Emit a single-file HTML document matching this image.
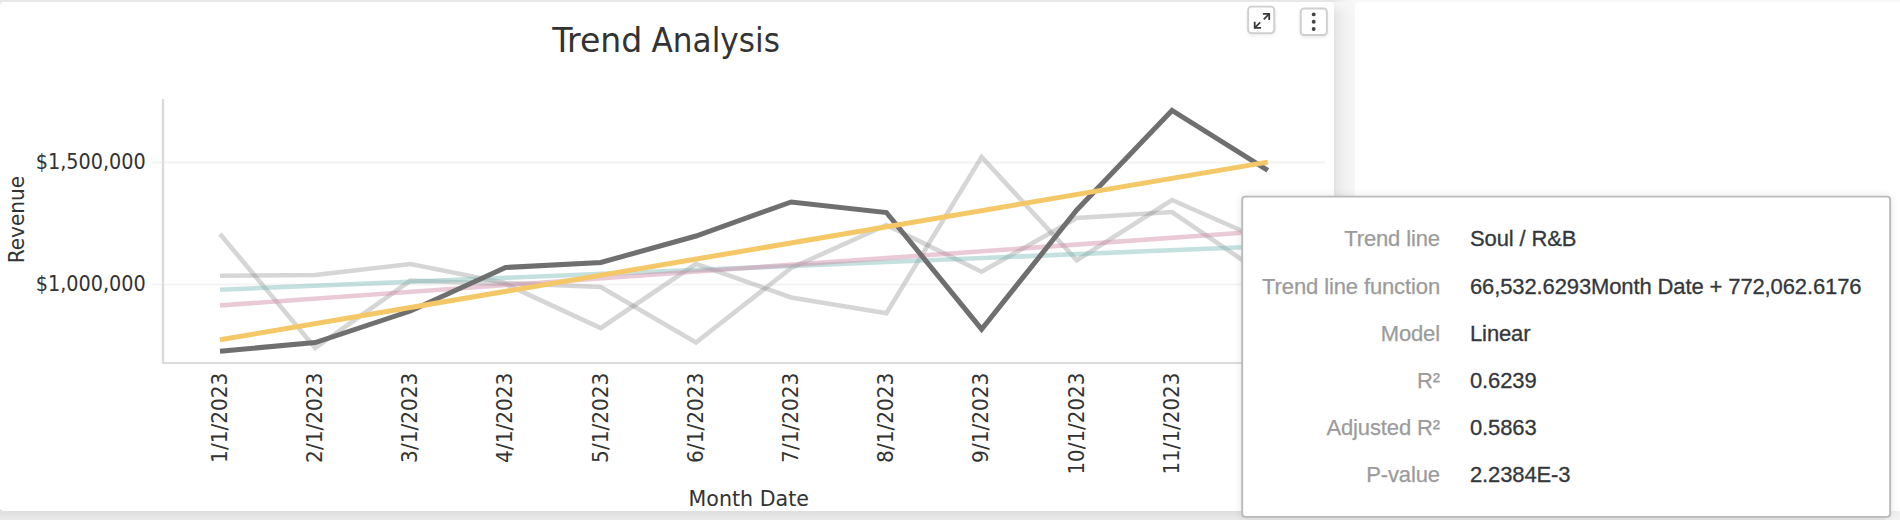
<!DOCTYPE html>
<html lang="en">
<head>
<meta charset="utf-8">
<title>Trend Analysis</title>
<style>
  html, body { margin: 0; padding: 0; }
  body {
    width: 1900px; height: 520px; overflow: hidden; position: relative;
    background: #f8f8f8;
    font-family: "Liberation Sans", sans-serif;
  }
  .topstrip {
    position: absolute; left: 0; top: 0; width: 1360px; height: 4px;
    background: linear-gradient(to right, #e8e8e8 0, #e8e8e8 1333px, #f8f8f8 1350px);
  }
  .botstrip {
    position: absolute; left: 0; top: 509px; width: 1900px; height: 11px;
    background: linear-gradient(to bottom, #dcdcdc 0, #dedede 2px, #eaeaea 11px);
  }
  .botstrip2 {
    position: absolute; left: 1885px; top: 509px; width: 15px; height: 11px;
    background: linear-gradient(to bottom, #eeeeee 0, #f3f3f3 11px);
  }
  .gap {
    position: absolute; left: 1330px; top: 2px; width: 27px; height: 510px;
    background: linear-gradient(to right, #e2e2e2 0, #e2e2e2 4px, #e8e8e8 7px, #f1f1f1 15px, #f8f8f8 26px);
  }
  .gaptop {
    position: absolute; left: 1330px; top: 2px; width: 27px; height: 14px;
    background: linear-gradient(to bottom, rgba(248,248,248,0.9) 0, rgba(248,248,248,0) 14px);
  }
  .card1 {
    position: absolute; left: 0; top: 2px; width: 1334px; height: 509px;
    background: #fff; border-radius: 4px;
  }
  .card2 {
    position: absolute; left: 1355px; top: 2px; width: 600px; height: 509px;
    background: #fff; border-radius: 4px;
  }
  svg.chart { position: absolute; left: 0; top: 0; }
  svg.chart text { font-family: "DejaVu Sans Condensed", "DejaVu Sans", "Liberation Sans", sans-serif; font-stretch: condensed; fill: #333; }
  .tipshadow {
    position: absolute; left: 1242px; top: 197px; width: 648px; height: 320px;
    border-radius: 3px; background: #fff;
    box-shadow: 0 0 10px rgba(0,0,0,0.13);
  }
  svg.frames { position: absolute; left: 0; top: 0; }
  .tip {
    position: absolute; left: 1243px; top: 197px; width: 646px; height: 319px;
    font-size: 22px; letter-spacing: -0.12px; color: #34373c; -webkit-text-stroke: 0.3px #34373c;
  }
  .tip .row { position: absolute; left: 0; width: 646px; height: 47px; line-height: 47px; white-space: nowrap; }
  .tip .k { position: absolute; right: 449px; color: #9b9b9b; -webkit-text-stroke: 0.25px #9b9b9b; text-align: right; white-space: nowrap; }
  .tip .v { position: absolute; left: 227px; white-space: nowrap; }
</style>
</head>
<body>
<div class="topstrip"></div>
<div class="botstrip"></div>
<div class="botstrip2"></div>
<div class="gap"></div>
<div class="gaptop"></div>
<div class="card1"></div>
<div class="card2"></div>

<svg class="chart" width="1900" height="520" viewBox="0 0 1900 520">
  <!-- grid -->
  <line x1="152" y1="162.5" x2="1325" y2="162.5" stroke="#f3f3f3" stroke-width="1.8"/>
  <line x1="152" y1="284.5" x2="1325" y2="284.5" stroke="#f3f3f3" stroke-width="1.8"/>
  <!-- axes -->
  <line x1="163" y1="99" x2="163" y2="364.1" stroke="#dbdbdb" stroke-width="2.3"/>
  <line x1="161.9" y1="363" x2="1325" y2="363" stroke="#dbdbdb" stroke-width="2.2"/>

  <!-- faded series -->
  <g fill="none" stroke-width="5" stroke-linejoin="miter" stroke-linecap="butt">
    <polyline stroke="#7f7f7f" stroke-opacity="0.32" stroke-width="4.6" points="220,275.75 315.2,275 410.4,264 505.6,283 600.8,287 696,342.5 791.2,268 886.4,225 981.6,271.7 1076.8,218 1172,212 1267.2,277"/>
    <polyline stroke="#7f7f7f" stroke-opacity="0.32" stroke-width="4.6" points="220,234 315.2,348 410.4,280.5 505.6,284 600.8,328 696,263.75 791.2,297.5 886.4,313.2 981.6,157 1076.8,260.3 1172,200 1267.2,242"/>
    <line stroke="#7fbdb9" stroke-opacity="0.45" stroke-width="4.6" x1="220" y1="289.7" x2="1267.2" y2="246.2"/>
    <line stroke="#d08aa6" stroke-opacity="0.45" stroke-width="4.6" x1="220" y1="305.4" x2="1267.2" y2="231"/>
    <polyline stroke="#6f6f6f" points="220,351.25 315.2,342.5 410.4,311 505.6,267.5 600.8,262.5 696,236 791.2,202 886.4,212.5 981.6,329.2 1076.8,210 1172,110.5 1267.8,170.3"/>
    <line stroke="#f4c866" x1="220" y1="339.8" x2="1267.8" y2="162.1"/>
  </g>

  <!-- title -->
  <text y="51.75" font-size="34"><tspan x="552.3" textLength="90" lengthAdjust="spacingAndGlyphs">Trend</tspan> <tspan x="651.5" textLength="128.5" lengthAdjust="spacingAndGlyphs">Analysis</tspan></text>

  <!-- y labels -->
  <g font-size="20.5" text-anchor="end">
    <text x="145.8" y="168.75" textLength="110" lengthAdjust="spacingAndGlyphs">$1,500,000</text>
    <text x="145.8" y="290.75" textLength="110" lengthAdjust="spacingAndGlyphs">$1,000,000</text>
  </g>
  <text transform="translate(24.25,219.5) rotate(-90)" font-size="21.2" text-anchor="middle" textLength="87.5" lengthAdjust="spacingAndGlyphs">Revenue</text>

  <!-- x labels -->
  <g font-size="20.5" text-anchor="end">
    <text transform="translate(227.1,372.6) rotate(-90)" textLength="90.3" lengthAdjust="spacingAndGlyphs">1/1/2023</text>
    <text transform="translate(322.2,372.6) rotate(-90)" textLength="90.3" lengthAdjust="spacingAndGlyphs">2/1/2023</text>
    <text transform="translate(417.3,372.6) rotate(-90)" textLength="90.3" lengthAdjust="spacingAndGlyphs">3/1/2023</text>
    <text transform="translate(512.4,372.6) rotate(-90)" textLength="90.3" lengthAdjust="spacingAndGlyphs">4/1/2023</text>
    <text transform="translate(607.5,372.6) rotate(-90)" textLength="90.3" lengthAdjust="spacingAndGlyphs">5/1/2023</text>
    <text transform="translate(702.6,372.6) rotate(-90)" textLength="90.3" lengthAdjust="spacingAndGlyphs">6/1/2023</text>
    <text transform="translate(797.7,372.6) rotate(-90)" textLength="90.3" lengthAdjust="spacingAndGlyphs">7/1/2023</text>
    <text transform="translate(892.8,372.6) rotate(-90)" textLength="90.3" lengthAdjust="spacingAndGlyphs">8/1/2023</text>
    <text transform="translate(987.9,372.6) rotate(-90)" textLength="90.3" lengthAdjust="spacingAndGlyphs">9/1/2023</text>
    <text transform="translate(1083.5,372.6) rotate(-90)" textLength="102" lengthAdjust="spacingAndGlyphs">10/1/2023</text>
    <text transform="translate(1179.1,372.6) rotate(-90)" textLength="102" lengthAdjust="spacingAndGlyphs">11/1/2023</text>
  </g>
  <text x="748.75" y="506.25" font-size="20.6" text-anchor="middle" textLength="120.3" lengthAdjust="spacingAndGlyphs">Month Date</text>
</svg>

<!-- buttons -->
<div class="tipshadow"></div>
<svg class="frames" width="1900" height="520" viewBox="0 0 1900 520">
  <defs>
    <filter id="bs" x="-30%" y="-30%" width="160%" height="180%">
      <feGaussianBlur stdDeviation="2"/>
    </filter>
  </defs>
  <!-- expand button -->
  <rect x="1248" y="8.5" width="26.6" height="26.5" rx="4" fill="#000" opacity="0.11" filter="url(#bs)"/>
  <rect x="1248.15" y="6.65" width="26.1" height="26.5" rx="3.4" fill="#fff" stroke="#cfcfcf" stroke-width="1.9"/>
  <g fill="none" stroke="#383838">
    <path d="M1262.9 13.8 H1269.2 V20" stroke-width="1.8"/>
    <path d="M1269.2 13.8 L1263.7 19.3" stroke-width="1.7"/>
    <path d="M1254.7 21.8 V27.9 H1261.1" stroke-width="1.8"/>
    <path d="M1254.7 27.9 L1260.2 22.4" stroke-width="1.7"/>
  </g>
  <!-- menu button -->
  <rect x="1300.6" y="10.4" width="26.6" height="26.5" rx="4" fill="#000" opacity="0.11" filter="url(#bs)"/>
  <rect x="1300.75" y="8.55" width="26.1" height="26.5" rx="3.4" fill="#fff" stroke="#cfcfcf" stroke-width="1.9"/>
  <g fill="#444">
    <circle cx="1313.7" cy="14.4" r="1.95"/><circle cx="1313.7" cy="21.7" r="1.95"/><circle cx="1313.7" cy="29" r="1.95"/>
  </g>
  <!-- tooltip frame -->
  <rect x="1242.2" y="196.65" width="647.95" height="320.2" rx="3" fill="#fff" stroke="#bababa" stroke-width="1.9"/>
</svg>

<!-- tooltip -->
<div class="tip">
  <div class="row" style="top:0; transform:translateY(18.3px);"><span class="k">Trend line</span><span class="v">Soul / R&amp;B</span></div>
  <div class="row" style="top:0; transform:translateY(65.7px);"><span class="k">Trend line function</span><span class="v">66,532.6293Month Date + 772,062.6176</span></div>
  <div class="row" style="top:0; transform:translateY(112.5px);"><span class="k">Model</span><span class="v">Linear</span></div>
  <div class="row" style="top:0; transform:translateY(159.5px);"><span class="k">R²</span><span class="v">0.6239</span></div>
  <div class="row" style="top:0; transform:translateY(206.5px);"><span class="k">Adjusted R²</span><span class="v">0.5863</span></div>
  <div class="row" style="top:0; transform:translateY(254.0px);"><span class="k">P-value</span><span class="v">2.2384E-3</span></div>
</div>
</body>
</html>
